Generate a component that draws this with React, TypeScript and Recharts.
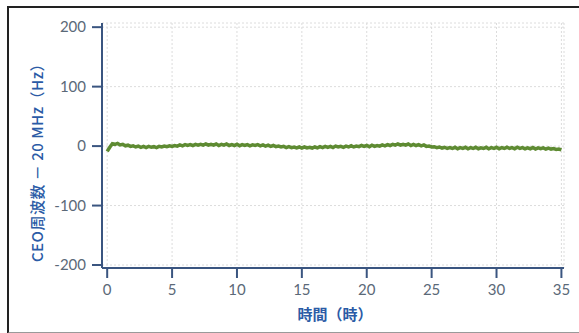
import { LineChart, Line, XAxis, YAxis, CartesianGrid, ReferenceArea } from "recharts";

// sampling interval of the frequency counter log (hours)
const SAMPLE_STEP_H = 0.2;

// CEO frequency offset from 20 MHz (Hz), one value per sample
const CEO_OFFSET_HZ = [
  -9, -2, 4, 3, 4.5, 2, 3, 0.5, 1.5, -0.5,
  0.5, -1.5, 0, -2, -0.5, -2.5, -0.5, -2, -1, -2.5,
  -0.5, -1.5, 0, -1, 0.5, -0.5, 1, 0, 2, 0.5,
  2.5, 1, 2.5, 1, 3, 1.5, 3, 1.5, 3.5, 1.5,
  3, 1.5, 3.5, 1, 3, 1.5, 3.5, 1, 2.5, 1,
  3, 0.5, 2.5, 1, 2.5, 0.5, 2, 1, 2.5, 0.5,
  2, 0, 1.5, -0.5, 1, -1, 0, -1.5, -0.5, -2.5,
  -1, -2.5, -1.5, -3, -1.5, -3.5, -1.5, -3, -2, -3.5,
  -1.5, -3, -1, -2.5, -0.5, -2, -0.5, -2.5, 0, -1.5,
  -0.5, -2, 0, -1.5, 0.5, -1.5, 0, -1, 1, -0.5,
  1, -1, 1.5, -0.5, 1, 0, 2, 0.5, 2.5, 1,
  3, 1.5, 3.5, 1.5, 3, 1.5, 3.5, 1, 3, 1,
  2.5, 0.5, 2, -0.5, 0, -1.5, -1, -2.5, -1.5, -3.5,
  -2, -4, -2.5, -4, -2, -4.5, -2.5, -4, -2, -4.5,
  -2.5, -4, -2, -4.5, -3, -4, -2, -4.5, -2.5, -4,
  -2, -4.5, -2.5, -4, -2, -4, -2.5, -4.5, -2, -4,
  -2.5, -4.5, -3, -4.5, -2.5, -5, -3, -4.5, -3, -5,
  -3.5, -5, -4, -5.5, -5, -6.5,
];

const X_TICKS = [0, 5, 10, 15, 20, 25, 30, 35];
const Y_TICKS = [-200, -100, 0, 100, 200];

const X_LABEL = "時間（時）";
const Y_LABEL = "CEO周波数 － 20 MHz（Hz）";

const data = CEO_OFFSET_HZ.map((v, i) => ({
  t: Math.round(i * SAMPLE_STEP_H * 10) / 10,
  hz: v,
}));

const FRAME = "#3a5580";
const TICK_TEXT = { fontSize: 15, fill: "#5b6978", fontFamily: "Lato, 'Open Sans', sans-serif" };

export default function App() {
  return (
    <div style={{ position: "absolute", left: 0, top: 0, width: 579, height: 333, background: "#fff", overflow: "hidden" }}>
      {/* outer frame of the figure */}
      <div style={{ position: "absolute", left: 7, top: 6, width: 600, height: 324, borderLeft: "2px solid #222", borderTop: "2px solid #222", borderBottom: "2px solid #9a9a9a" }} />
      <LineChart
        width={579}
        height={333}
        data={data}
        margin={{ top: 23, right: 15, left: 42, bottom: 35 }}
        style={{ position: "absolute", left: 0, top: 0 }}
      >
        <CartesianGrid stroke="#dcdcdc" strokeDasharray="2 2" />
        <XAxis
          dataKey="t"
          type="number"
          domain={[-0.4, 35.2]}
          ticks={X_TICKS}
          allowDataOverflow
          height={30}
          tick={TICK_TEXT}
          tickSize={10}
          tickMargin={6}
          stroke={FRAME}
          axisLine={{ stroke: FRAME, strokeWidth: 2 }}
          tickLine={{ stroke: FRAME, strokeWidth: 2 }}
        />
        <YAxis
          type="number"
          domain={[-205, 207]}
          ticks={Y_TICKS}
          allowDataOverflow
          width={60}
          tick={TICK_TEXT}
          tickSize={10}
          tickMargin={6}
          stroke={FRAME}
          axisLine={{ stroke: FRAME, strokeWidth: 2 }}
          tickLine={{ stroke: FRAME, strokeWidth: 2 }}
        />
        <ReferenceArea fill="none" stroke={FRAME} strokeWidth={2} />
        <Line
          dataKey="hz"
          type="linear"
          stroke="#5e8b32"
          strokeWidth={3.5}
          dot={false}
          isAnimationActive={false}
        />
      </LineChart>
      <div style={{ position: "absolute", left: 260, top: 304, width: 150, textAlign: "center", fontFamily: "'Noto Sans CJK JP', sans-serif", fontWeight: 700, fontSize: 15, color: "#2b5ba6", lineHeight: "20px" }}>
        {X_LABEL}
      </div>
      <div style={{ position: "absolute", left: 37, top: 159, width: 0, height: 0 }}>
        <div style={{ position: "absolute", left: -130, top: -10, width: 260, textAlign: "center", transform: "rotate(-90deg)", fontFamily: "'Noto Sans CJK JP', sans-serif", fontWeight: 500, fontSize: 15, color: "#2b5ba6", lineHeight: "20px", whiteSpace: "nowrap", letterSpacing: 0.5 }}>
          {Y_LABEL}
        </div>
      </div>
    </div>
  );
}
